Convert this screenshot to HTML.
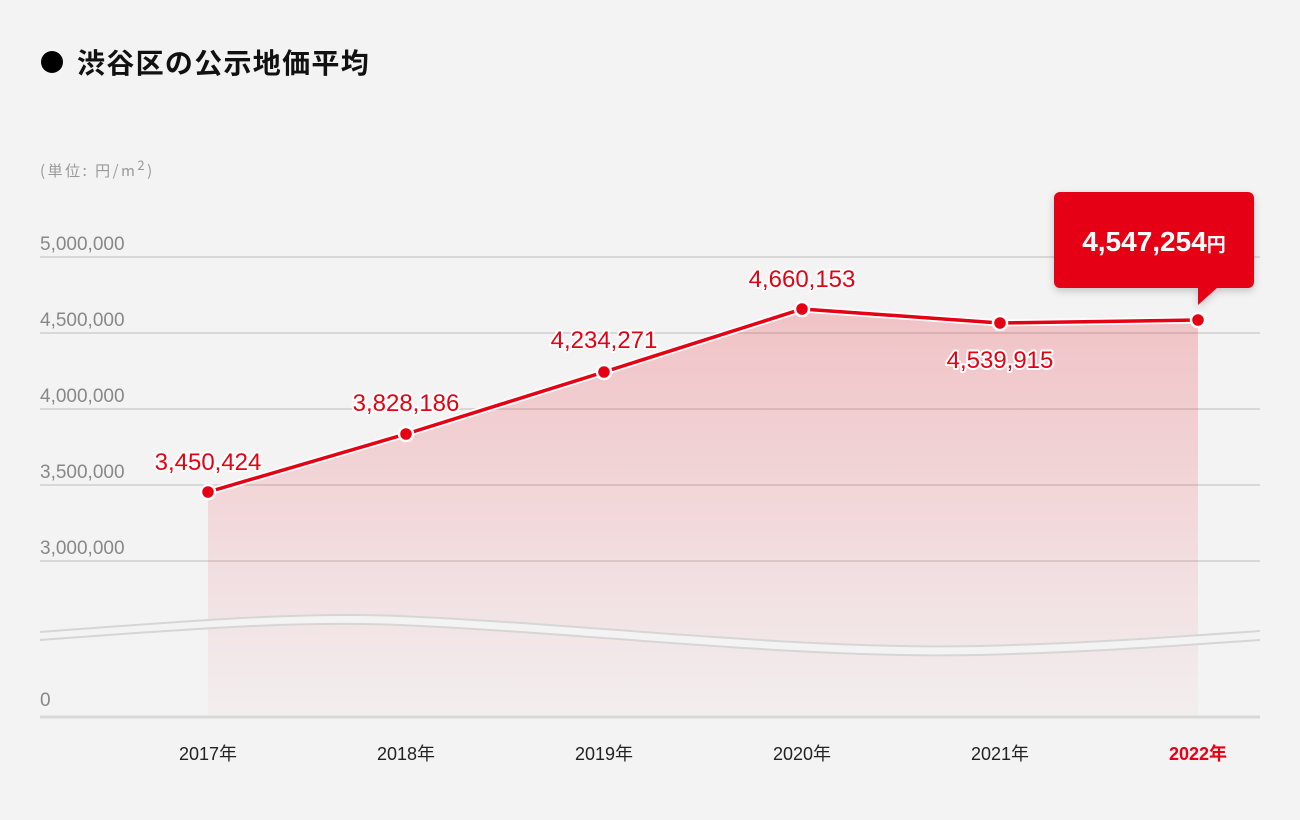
<!DOCTYPE html>
<html><head><meta charset="utf-8"><style>
html,body{margin:0;padding:0;background:#f3f3f3;}
svg{display:block}
</style></head><body>
<svg width="1300" height="820" viewBox="0 0 1300 820" xmlns="http://www.w3.org/2000/svg" font-family="'Liberation Sans','Noto Sans CJK JP',sans-serif">
<defs>
<linearGradient id="g" x1="0" y1="0" x2="0" y2="1">
<stop offset="0" stop-color="#e60012" stop-opacity="0.2"/>
<stop offset="1" stop-color="#e60012" stop-opacity="0.02"/>
</linearGradient>
<filter id="sh" x="-20%" y="-20%" width="140%" height="160%"><feDropShadow dx="0" dy="3" stdDeviation="4" flood-opacity="0.2"/></filter>
</defs>
<rect width="1300" height="820" fill="#f3f3f3"/>
<circle cx="52" cy="62" r="11" fill="#000"/>
<text x="77" y="73" font-size="28" font-weight="bold" fill="#111" letter-spacing="1.3" font-family="'Noto Sans CJK JP',sans-serif">渋谷区の公示地価平均</text>
<text x="40" y="176" font-size="15" fill="#999" letter-spacing="2.5" font-family="'Noto Sans CJK JP',sans-serif">(単位: 円/m<tspan dy="-6" font-size="13">2</tspan><tspan dy="6">)</tspan></text>
<g stroke="#d0d0d0" stroke-width="1.5">
<line x1="40" y1="257" x2="1260" y2="257"/><line x1="40" y1="333" x2="1260" y2="333"/>
<line x1="40" y1="409" x2="1260" y2="409"/><line x1="40" y1="485" x2="1260" y2="485"/>
<line x1="40" y1="561" x2="1260" y2="561"/>
</g>
<g font-size="19" fill="#888">
<text x="40" y="250">5,000,000</text><text x="40" y="326">4,500,000</text>
<text x="40" y="402">4,000,000</text><text x="40" y="478">3,500,000</text>
<text x="40" y="554">3,000,000</text><text x="40" y="706">0</text>
</g>
<path d="M208,492 L406,434 L604,372 L802,309 L1000,323 L1198,320 L1198,716 L208,716Z" fill="url(#g)"/>
<path d="M40,632 C200,620 300,612 400,616 C600,625 800,650 980,646 C1100,643 1200,635 1260,631 L1260,640 C1200,644 1100,652 980,655 C800,659 600,634 400,625 C300,621 200,628 40,640Z" fill="#f3f3f3"/>
<g fill="none" stroke="#d6d6d6" stroke-width="2">
<path d="M40,632 C200,620 300,612 400,616 C600,625 800,650 980,646 C1100,643 1200,635 1260,631"/>
<path d="M40,640 C200,628 300,621 400,625 C600,634 800,659 980,655 C1100,652 1200,644 1260,640"/>
</g>
<line x1="40" y1="717" x2="1260" y2="717" stroke="#d8d8d8" stroke-width="3"/>
<polyline points="208,492 406,434 604,372 802,309 1000,323 1198,320" fill="none" stroke="#fff" stroke-width="7" stroke-linejoin="round"/>
<polyline points="208,492 406,434 604,372 802,309 1000,323 1198,320" fill="none" stroke="#e60012" stroke-width="3.5" stroke-linejoin="round"/>
<g fill="#e60012" stroke="#fff" stroke-width="2.5">
<circle cx="208" cy="492" r="7"/><circle cx="406" cy="434" r="7"/><circle cx="604" cy="372" r="7"/>
<circle cx="802" cy="309" r="7"/><circle cx="1000" cy="323" r="7"/><circle cx="1198" cy="320" r="7"/>
</g>
<g font-size="24" fill="#e60012" text-anchor="middle" stroke="#fff" stroke-width="4" paint-order="stroke" stroke-linejoin="round">
<text x="208" y="470">3,450,424</text><text x="406" y="411">3,828,186</text>
<text x="604" y="348">4,234,271</text><text x="802" y="287">4,660,153</text>
<text x="1000" y="368">4,539,915</text>
</g>
<g filter="url(#sh)">
<rect x="1054" y="192" width="200" height="96" rx="6" fill="#e60012"/>
<path d="M1198,287 L1218,287 L1198,305Z" fill="#e60012"/>
</g>
<text x="1154" y="251" text-anchor="middle" fill="#fff" font-weight="bold" font-size="28">4,547,254<tspan font-size="19" font-family="'Noto Sans CJK JP',sans-serif">円</tspan></text>
<g font-size="18" fill="#222" text-anchor="middle" font-family="'Liberation Sans','Noto Sans CJK JP',sans-serif">
<text x="208" y="760">2017年</text><text x="406" y="760">2018年</text><text x="604" y="760">2019年</text>
<text x="802" y="760">2020年</text><text x="1000" y="760">2021年</text>
<text x="1198" y="760" fill="#e60012" font-weight="bold">2022年</text>
</g>
</svg>
</body></html>
